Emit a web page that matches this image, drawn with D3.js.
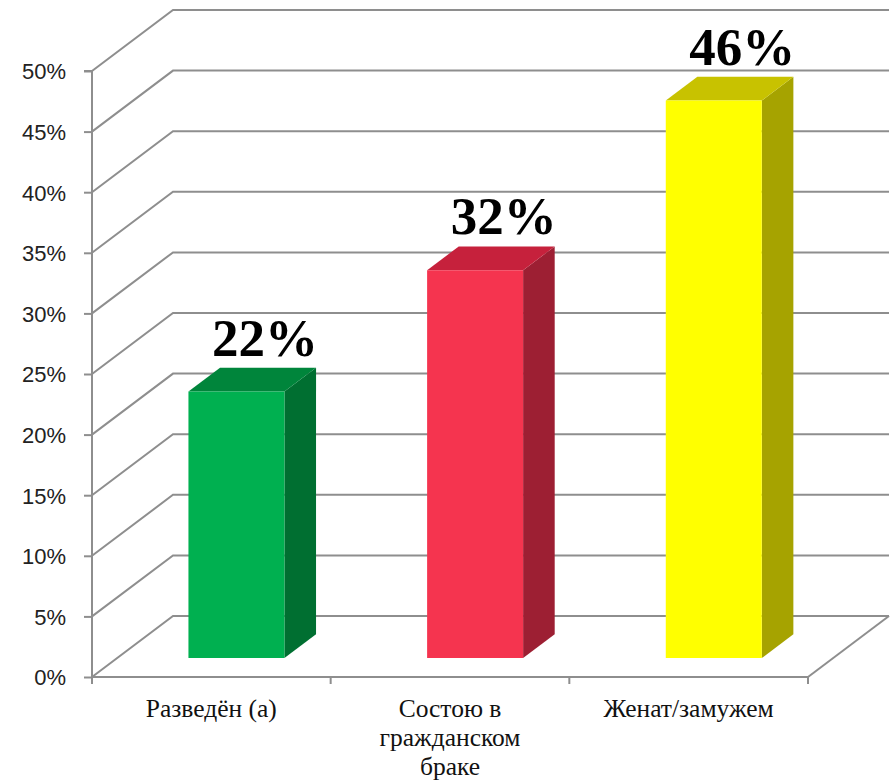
<!DOCTYPE html>
<html>
<head>
<meta charset="utf-8">
<script src="https://cdn.jsdelivr.net/npm/d3@7"></script>
<style>
  html, body { margin: 0; padding: 0; background: #fff; }
  svg { display: block; }
</style>
</head>
<body>
<svg id="chart" width="893" height="783"></svg>
<script>
// Data
const categories = ["Разведён (а)", "Состою в гражданском браке", "Женат/замужем"];
const categoryLines = [["Разведён (а)"], ["Состою в", "гражданском", "браке"], ["Женат/замужем"]];
const values = [22, 32, 46];
const valueLabels = ["22%", "32%", "46%"];
const yTicks = [0, 5, 10, 15, 20, 25, 30, 35, 40, 45, 50];
const frontColors = ["#00b050", "#f5344f", "#ffff00"];
const topColors = ["#00853b", "#c6213c", "#c8c200"];
const sideColors = ["#006f31", "#9d1f33", "#a6a300"];

const svg = d3.select("#chart");

// Front plane of the plot
const x = d3.scaleBand().domain(categories).range([92, 808]).paddingInner(0).paddingOuter(0);
const y = d3.scaleLinear().domain([0, 50]).range([677, 71]);

// Depth projection: z in [0,1] moves a point back into the chart
const depthDX = 81, depthDY = -61;
const proj = (px, py, z) => [px + z * depthDX, py + z * depthDY];

const gridColor = "#8e8e8e";
const grid = svg.append("g").attr("fill", "none").attr("stroke", gridColor).attr("stroke-width", 2);

// Left wall diagonals and back wall horizontals
yTicks.forEach(t => {
  const p0 = [x.range()[0], y(t)];
  const p1 = proj(p0[0], p0[1], 1);
  const p2 = proj(x.range()[1], y(t), 1);
  grid.append("polyline")
    .attr("points", [p0, p1, [p2[0], p1[1]]].map(p => p.join(",")).join(" "));
});

// Floor: right edge and front edge
const fr = [x.range()[1], y(0)];
const frBack = proj(fr[0], fr[1], 1);
grid.append("line").attr("x1", fr[0]).attr("y1", fr[1]).attr("x2", frBack[0]).attr("y2", frBack[1]);
grid.append("line").attr("x1", x.range()[0]).attr("y1", y(0)).attr("x2", fr[0]).attr("y2", fr[1]);

// Vertical value axis with ticks
const yAxis = d3.axisLeft(y).tickValues(yTicks).tickFormat(d => d + "%").tickSize(8).tickPadding(18);
const yG = svg.append("g").attr("transform", `translate(${x.range()[0]},0)`).call(yAxis);
yG.select(".domain").attr("stroke", gridColor).attr("stroke-width", 2)
  .attr("d", `M-8,${y(50)}H0V${y(0) + 7}`);
yG.selectAll(".tick line").attr("stroke", gridColor).attr("stroke-width", 2);
yG.selectAll(".tick text")
  .attr("fill", "#222")
  .style("font-family", "'Liberation Sans', Arial, sans-serif")
  .style("font-size", "22px")
  .attr("dy", "0.36em");

// Category ticks along the floor front edge
const bounds = [x.range()[0], ...categories.map(c => x(c) + x.bandwidth())];
svg.append("g").selectAll("line").data(bounds).join("line")
  .attr("x1", d => d).attr("x2", d => d)
  .attr("y1", y(0)).attr("y2", y(0) + 7)
  .attr("stroke", gridColor).attr("stroke-width", 2);

// Category labels
const catG = svg.append("g")
  .style("font-family", "'Liberation Serif', 'Times New Roman', serif")
  .style("font-size", "25.5px")
  .attr("fill", "#111")
  .attr("text-anchor", "middle");
categories.forEach((c, i) => {
  const cx = x(c) + x.bandwidth() / 2;
  categoryLines[i].forEach((line, j) => {
    catG.append("text").attr("x", cx).attr("y", 717 + j * 29).text(line);
  });
});

// 3D bars
const barW = 96, z0 = 0.31, z1 = 0.70;
const barsG = svg.append("g");
categories.forEach((c, i) => {
  const cx = x(c) + x.bandwidth() / 2;
  const xl = cx - barW / 2, xr = cx + barW / 2;
  const yb = y(0), yt = y(values[i]);
  const P = (px, py, z) => proj(px, py, z).join(",");
  // side face
  barsG.append("polygon")
    .attr("points", [P(xr, yb, z0), P(xr, yb, z1), P(xr, yt, z1), P(xr, yt, z0)].join(" "))
    .attr("fill", sideColors[i]);
  // top face
  barsG.append("polygon")
    .attr("points", [P(xl, yt, z0), P(xl, yt, z1), P(xr, yt, z1), P(xr, yt, z0)].join(" "))
    .attr("fill", topColors[i]);
  // front face
  barsG.append("polygon")
    .attr("points", [P(xl, yb, z0), P(xr, yb, z0), P(xr, yt, z0), P(xl, yt, z0)].join(" "))
    .attr("fill", frontColors[i]);

  // value label
  const lp = proj(cx, yt, z1);
  svg.append("text")
    .attr("x", lp[0] - 3)
    .attr("y", lp[1] - 12)
    .attr("text-anchor", "middle")
    .style("font-family", "'Liberation Serif', 'Times New Roman', serif")
    .style("font-weight", "bold")
    .style("font-size", "53px")
    .attr("fill", "#000")
    .text(valueLabels[i]);
});
</script>
</body>
</html>
